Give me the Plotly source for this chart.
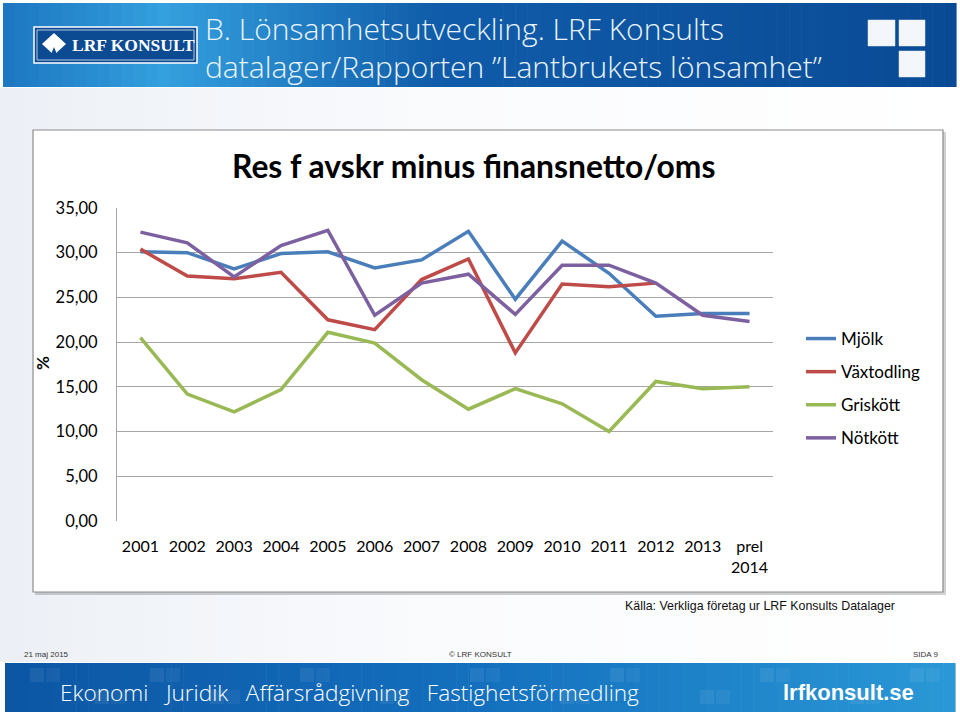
import plotly.graph_objects as go

# ---------------- data ----------------
years = ["2001", "2002", "2003", "2004", "2005", "2006", "2007",
         "2008", "2009", "2010", "2011", "2012", "2013", "prel<br>2014"]
mjolk = [30.1, 30.0, 28.2, 29.9, 30.1, 28.3, 29.2, 32.4, 24.8, 31.3, 27.7, 22.9, 23.2, 23.2]
vaxtodling = [30.4, 27.4, 27.1, 27.8, 22.5, 21.4, 27.0, 29.3, 18.8, 26.5, 26.2, 26.6, None, None]
griskott = [20.5, 14.2, 12.2, 14.7, 21.1, 19.9, 15.8, 12.5, 14.8, 13.1, 10.0, 15.6, 14.8, 15.0]
notkott = [32.3, 31.1, 27.3, 30.8, 32.5, 23.0, 26.6, 27.6, 23.1, 28.6, 28.6, 26.6, 23.0, 22.3]
series_names = ["Mjölk", "Växtodling", "Griskött", "Nötkött"]
series_colors = ["#4a7ebb", "#be4b48", "#98b954", "#7d60a0"]
y_ticks = [0, 5, 10, 15, 20, 25, 30, 35]

# ---------------- layout geometry (pixels) ----------------
W, H = 960, 716
L, R, T, B = 117, 773, 208, 521


def fx(x):
    return (x - L) / (R - L)


def fy(y):
    return (B - y) / (B - T)


def lerp_color(stops, t):
    for i in range(len(stops) - 1):
        t0, c0 = stops[i]
        t1, c1 = stops[i + 1]
        if t0 <= t <= t1:
            f = (t - t0) / (t1 - t0) if t1 > t0 else 0
            c = [round(c0[k] + (c1[k] - c0[k]) * f) for k in range(3)]
            return "rgb(%d,%d,%d)" % tuple(c)
    c = stops[-1][1]
    return "rgb(%d,%d,%d)" % tuple(c)


shapes = []


def rect(x0, y0, x1, y1, fill, line=None, lw=0, layer="below"):
    shapes.append(dict(type="rect", xref="paper", yref="paper",
                       x0=fx(x0), x1=fx(x1), y0=fy(y1), y1=fy(y0),
                       fillcolor=fill, layer=layer,
                       line=dict(color=line or "rgba(0,0,0,0)", width=lw)))


def gradient_band(x0, x1, y0, y1, stops, n=80):
    step = (x1 - x0) / n
    for i in range(n):
        xa = x0 + i * step
        t = (xa + step / 2 - x0) / (x1 - x0)
        rect(xa, y0, xa + step + 0.6, y1, lerp_color(stops, t))


# slide background light gradient
gradient_band(0, W, 88, 662, [(0, (236, 240, 246)), (0.45, (250, 251, 253)), (1, (255, 255, 255))], n=40)

# header band
gradient_band(3, 956, 3, 87, [(0, (28, 118, 192)), (0.17, (52, 160, 222)),
                              (0.45, (16, 92, 170)), (1, (10, 74, 148))])
# footer band
gradient_band(5, 955, 663, 712, [(0, (12, 86, 164)), (0.5, (20, 112, 190)),
                                 (1, (42, 152, 214))])
# faint squares in footer
for (sx, sy) in [(30, 668), (95, 690), (150, 668), (210, 690), (300, 668), (380, 690),
                 (470, 668), (560, 690), (610, 668), (700, 690), (760, 668), (850, 690), (910, 668)]:
    rect(sx, sy, sx + 14, sy + 14, "rgba(255,255,255,0.07)")
    rect(sx + 16, sy, sx + 30, sy + 14, "rgba(255,255,255,0.05)")

# logo
rect(34, 27, 197, 63, "#0c4a92", line="#ffffff", lw=1.5, layer="above")
rect(37, 30, 194, 60, "#0c4a92", line="#dfe8f3", lw=0.8, layer="above")
shapes.append(dict(type="path", xref="paper", yref="paper", layer="above",
                   path="M %f,%f L %f,%f L %f,%f L %f,%f Z" % (
                       fx(54), fy(33), fx(66), fy(44), fx(54), fy(55), fx(42), fy(44)),
                   fillcolor="#ffffff", line=dict(width=0)))
shapes.append(dict(type="path", xref="paper", yref="paper", layer="above",
                   path="M %f,%f L %f,%f L %f,%f Z" % (
                       fx(54), fy(47), fx(58), fy(57), fx(50), fy(57)),
                   fillcolor="#0c4a92", line=dict(width=0)))

# squares top right
for (x0, y0, x1, y1) in [(868, 20, 895, 46), (899, 20, 925, 46), (899, 51, 925, 77)]:
    rect(x0, y0, x1, y1, "#f3f6fa", line="#e0e8f2", lw=0.5, layer="above")

# chart box with shadow
rect(35, 132, 946, 595, "rgba(0,0,0,0.18)")
rect(33, 130, 943, 592, "#ffffff", line="#8c8c8c", lw=1.2)

# ---------------- figure ----------------
fig = go.Figure()
for name, vals, col in zip(series_names, [mjolk, vaxtodling, griskott, notkott], series_colors):
    fig.add_trace(go.Scatter(x=years, y=vals, mode="lines", name=name,
                             line=dict(color=col, width=3.5), legendgroup=name,
                             connectgaps=False))

annotations = []


def text(x, y, s, size, color="#000000", family="Liberation Sans", xanchor="left",
         yanchor="middle", textangle=0, weight=None):
    f = dict(size=size, color=color, family=family)
    if weight:
        f["weight"] = weight
    annotations.append(dict(x=fx(x), y=fy(y), xref="paper", yref="paper", text=s,
                            showarrow=False, xanchor=xanchor, yanchor=yanchor,
                            textangle=textangle, font=f))


text(203, 28, "B. Lönsamhetsutveckling. LRF Konsults", 30, "#eaf4fc",
     family="Open Sans", weight=300)
text(203, 66, "datalager/Rapporten ”Lantbrukets lönsamhet”", 30, "#eaf4fc",
     family="Open Sans", weight=300)
text(70, 45, "<b>LRF KONSULT</b>", 17.5, "#ffffff", family="Liberation Serif")
text(473, 166, "<b>Res f avskr minus finansnetto/oms</b>", 31.8, "#000000", family="Lato", xanchor="center")
text(42, 363, "<b>%</b>", 17, "#000000", family="Lato", xanchor="center", textangle=-90)
text(897, 606, "Källa: Verkliga företag ur LRF Konsults Datalager", 12.4, "#111111",
     family="Liberation Sans", xanchor="right")
text(22, 654, "21 maj 2015", 8, "#333333")
text(480, 654, "© LRF KONSULT", 8, "#333333", xanchor="center")
text(940, 654, "SIDA 9", 8, "#333333", xanchor="right")
text(58, 692, "Ekonomi   Juridik   Affärsrådgivning   Fastighetsförmedling", 22.6, "#ffffff",
     family="Open Sans", weight=300)
text(916, 692, "<b>lrfkonsult.se</b>", 22, "#ffffff", family="Liberation Sans",
     xanchor="right")

fig.update_layout(
    width=W, height=H,
    margin=dict(l=L, r=W - R, t=T, b=H - B, pad=0),
    paper_bgcolor="#ffffff",
    plot_bgcolor="rgba(0,0,0,0)",
    separators=",.",
    shapes=shapes,
    annotations=annotations,
    showlegend=True,
    legend=dict(x=fx(801), y=fy(321), xanchor="left", yanchor="top",
                font=dict(family="Lato", size=17, color="#000000"),
                tracegroupgap=8, itemwidth=30, bgcolor="rgba(0,0,0,0)"),
    xaxis=dict(type="category", range=[-0.5, 13.5], showgrid=False, zeroline=False,
               showline=False, ticks="", ticklabelstandoff=14,
               tickfont=dict(family="Lato", size=16, color="#000000")),
    yaxis=dict(range=[0, 35], tickvals=y_ticks, tickformat=".2f", showgrid=True,
               gridcolor="#a6a6a6", gridwidth=1.2, zeroline=False,
               showline=True, linecolor="#a6a6a6", linewidth=1.2,
               ticks="", ticklabelstandoff=15,
               tickfont=dict(family="Lato", size=16.5, color="#000000")),
)

fig.write_html("out.html", config={"displayModeBar": False},
               post_script="document.body.style.margin='0';document.body.style.overflow='hidden';")
